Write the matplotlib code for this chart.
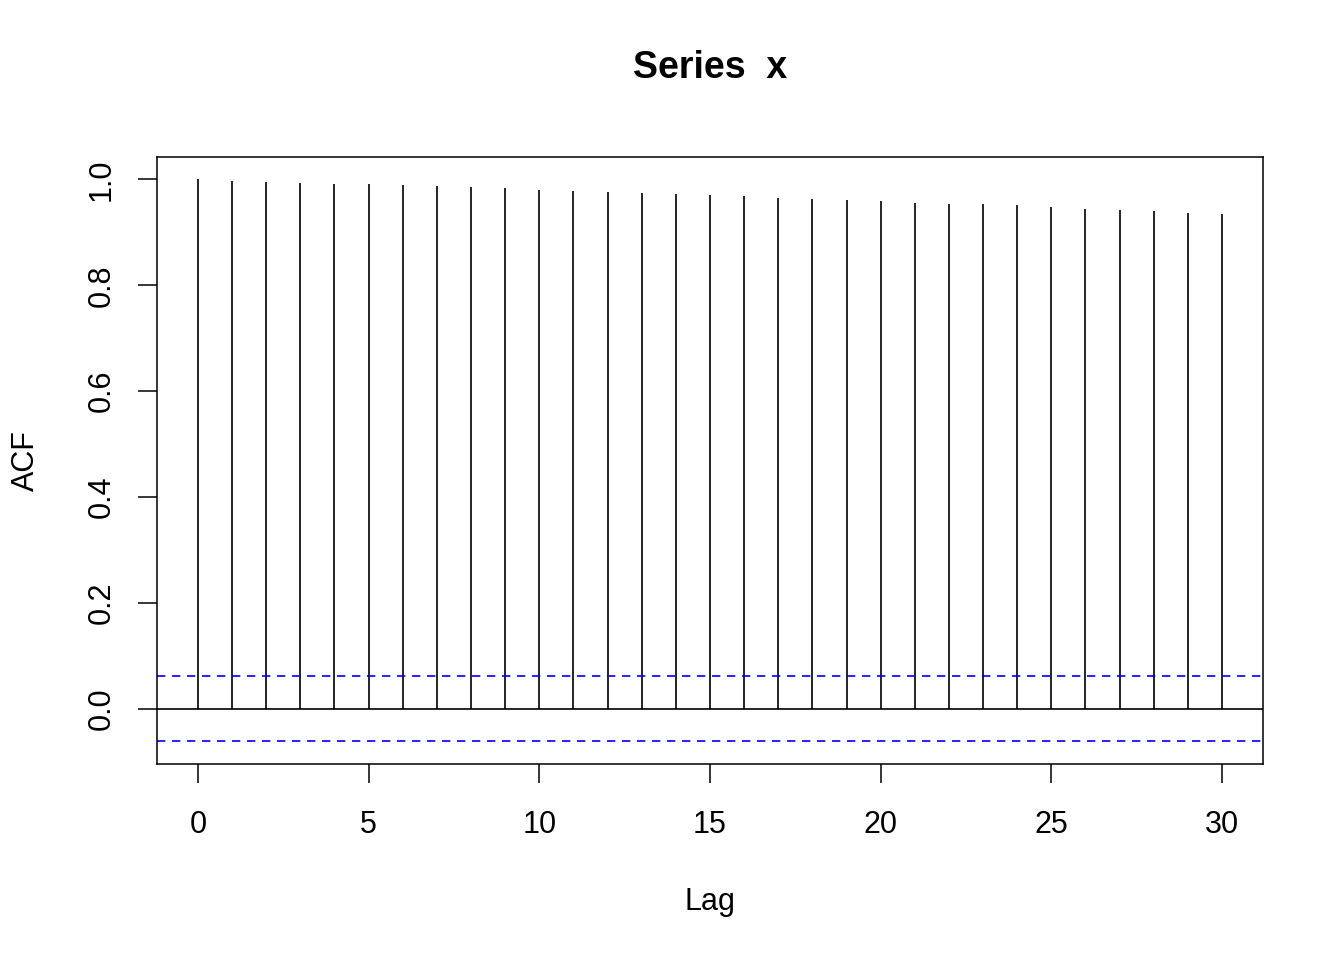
import matplotlib.pyplot as plt

plt.rcParams["font.family"] = ["Liberation Sans", "DejaVu Sans"]

lags = list(range(31))
acf = [1.000, 0.998, 0.996, 0.994, 0.992, 0.991, 0.989, 0.987, 0.985, 0.983,
       0.980, 0.979, 0.977, 0.974, 0.972, 0.970, 0.968, 0.965, 0.963, 0.961,
       0.959, 0.956, 0.954, 0.953, 0.951, 0.948, 0.945, 0.943, 0.940, 0.9375,
       0.9356]
conf = 0.062

fig = plt.figure(figsize=(13.44, 9.6), dpi=100)
ax = fig.add_axes([0.1168, 0.2042, 0.8229, 0.6323])

ax.vlines(lags, 0, acf, color="black", linewidth=1.2)
ax.axhline(0, color="black", linewidth=1.2)
ax.axhline(conf, color="blue", linestyle=(0, (5, 4)), linewidth=1.2)
ax.axhline(-conf, color="blue", linestyle=(0, (5, 4)), linewidth=1.2)

ax.set_xlim(-1.2, 31.2)
ax.set_ylim(-0.1045, 1.0425)
ax.set_xticks([0, 5, 10, 15, 20, 25, 30])
ax.set_yticks([0.0, 0.2, 0.4, 0.6, 0.8, 1.0])
ax.set_yticklabels(["0.0", "0.2", "0.4", "0.6", "0.8", "1.0"], rotation=90, va="center")
ax.tick_params(axis="both", labelsize=22, length=14, width=1.1)
ax.tick_params(axis="x", pad=19)
ax.tick_params(axis="y", pad=15)
for s in ax.spines.values():
    s.set_linewidth(1.1)

ax.set_xlabel("Lag", fontsize=22, labelpad=34)
ax.set_ylabel("ACF", fontsize=22, labelpad=33)
fig.text(0.528, 0.929, "Series  x", fontsize=27, fontweight="bold",
         ha="center", va="center")

fig.savefig("out.png", dpi=100)
